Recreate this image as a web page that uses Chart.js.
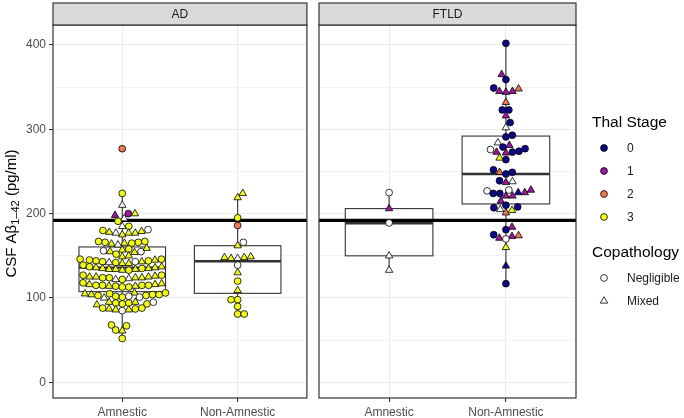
<!DOCTYPE html>
<html>
<head>
<meta charset="utf-8">
<script src="https://cdn.jsdelivr.net/npm/chart.js@4.4.1/dist/chart.umd.min.js"></script>
<style>
  body { margin: 0; background: #fff; font-family: "Liberation Sans", Arial, sans-serif; }
  #wrap { position: relative; width: 684px; height: 418px; overflow: hidden; }
  canvas { position: absolute; top: 0; }
  #cL { left: 0; }
  #cR { left: 312px; }
  .lt { position: absolute; left: 592px; font-size: 15.5px; color: #000; transform: translateY(-50%); white-space: nowrap; }
  .li { position: absolute; left: 597px; height: 14px; transform: translateY(-50%); font-size: 12px; color: #1a1a1a; white-space: nowrap; }
  .li svg { position: absolute; left: 0; top: 0; }
  .li span { position: absolute; left: 30px; top: 0; line-height: 14px; }
</style>
</head>
<body>
<div id="wrap">
  <canvas id="cL" width="312" height="418"></canvas>
  <canvas id="cR" width="372" height="418"></canvas>
  <div id="legend"></div>
</div>
<script>
// facet / group labels
const facets = ['AD', 'FTLD'];
const groups = ['Amnestic', 'Non-Amnestic'];
const yTicks = [0, 50, 100, 150, 200, 250, 300, 350, 400];
const yTitle = ['CSF Aβ', '1–42', ' (pg/ml)'];   // main, subscript, rest
const cutoff = 192;

// thal stage colours (plasma), -1 = not assessed (white)
const stageLabels = ['0', '1', '2', '3'];
const stageColors = ['#0D0887', '#9C179E', '#ED7953', '#F0F921'];
const copathLabels = ['Negligible', 'Mixed'];

// box stats: [lower whisker, q1, median, q3, upper whisker]
const boxAD = [[52, 107.5, 136, 160.5, 224], [81, 105.5, 143.5, 162, 224]];
const boxFTLD = [[133, 150, 188.6, 206, 224.6], [117, 211.5, 247, 292, 402.5]];

// AD / Amnestic
const adAmnVal = [277, 224, 210, 200, 198, 200, 194, 191, 185, 185,
  180, 178, 177, 175, 177, 177, 179, 181,
  167, 166, 165, 164, 163, 166, 165, 167,
  158, 156, 155, 154, 152, 155, 157, 159, 150, 149,
  146, 145, 144, 143, 143, 142, 141, 143, 142, 141, 144, 145, 146,
  136, 134, 135, 133, 136, 134, 135, 137, 135, 133, 134, 137, 139,
  127, 126, 124, 124, 123, 122, 124, 125, 124, 125, 122, 125, 127,
  118, 116, 115, 114, 113, 114, 115, 116, 114, 115, 113, 117, 115,
  106, 104, 102, 104, 103, 101, 105, 102, 100, 103, 101, 105, 104, 106,
  95, 94, 93, 95, 93, 94, 92, 95,
  88, 87, 86, 88, 86, 85, 87,
  68, 67, 62, 61, 52];
const adAmnStage = [2, 3, -1, 1, 1, 3, -1, 3, -1, 3,
  3, 3, 3, 3, -1, 3, 3, -1,
  3, 3, 3, 3, -1, 3, 3, 3,
  3, -1, 3, 3, 3, -1, 3, 3, 3, 3,
  3, 3, 3, -1, 3, 3, 3, 3, -1, 3, 3, 3, 3,
  3, 3, 3, 3, 3, 3, 3, 3, 3, 3, 3, 3, 3,
  3, 3, 3, 3, -1, 3, 3, 3, 3, 3, -1, 3, 3,
  3, 3, 3, 3, 3, 3, 3, 3, 3, 3, 3, 3, 3,
  3, 3, -1, 3, 3, 3, 3, 3, -1, 3, -1, 3, 3, 3,
  3, 3, 3, 3, 3, 3, 3, -1,
  3, 3, 3, 3, 3, -1, 3,
  3, 3, 3, 3, 3];
const adAmnCopath = [0, 0, 1, 0, 1, 1, 1, 0, 1, 0,
  0, 1, 1, 1, 1, 1, 1, 0,
  0, 0, 1, 1, 1, 0, 0, 0,
  0, 0, 1, 1, 0, 0, 1, 1, 1, 1,
  0, 1, 0, 0, 1, 0, 1, 0, 1, 1, 0, 0, 0,
  1, 1, 0, 1, 1, 1, 1, 0, 1, 0, 1, 1, 0,
  0, 1, 0, 1, 1, 0, 0, 1, 1, 1, 1, 1, 0,
  0, 1, 0, 0, 0, 1, 0, 1, 1, 0, 0, 1, 0,
  1, 0, 0, 1, 0, 0, 0, 0, 1, 0, 0, 1, 0, 0,
  1, 0, 0, 1, 0, 0, 1, 0,
  0, 1, 1, 0, 1, 0, 0,
  0, 0, 0, 1, 0];

// AD / Non-Amnestic
const adNonVal = [224, 219, 195, 186, 166, 162, 148, 148, 147, 139, 147, 149, 130, 120, 109, 98, 98, 90, 81, 81];
const adNonStage = [3, 3, 3, 2, -1, 3, 3, 3, -1, -1, 3, 3, 3, 3, 3, 3, 3, 3, 3, 3];
const adNonCopath = [1, 1, 0, 0, 0, 1, 1, 1, 1, 0, 1, 1, 1, 0, 1, 0, 0, 0, 0, 0];

// FTLD / Amnestic
const ftAmnVal = [225, 206, 189, 150, 133];
const ftAmnStage = [-1, 1, -1, -1, -1];
const ftAmnCopath = [0, 1, 0, 1, 1];

// FTLD / Non-Amnestic
const ftNonVal = [402, 365, 359, 349, 345, 344, 345, 348, 332, 323, 323, 316, 308, 302, 293, 291,
  284, 281, 279, 277, 274, 272, 273, 273, 276, 264, 266,
  249, 247, 249, 252, 239, 237, 238,
  228, 227, 225, 224, 221, 221, 224, 225, 228, 215,
  210, 208, 205, 207, 201, 204,
  184, 181, 175, 173, 171, 170, 174, 160, 138, 117];
const ftNonStage = [0, 1, 0, 0, 1, 1, 1, 2, 2, 0, 0, 1, 0, -1, 0, 0,
  -1, 1, 0, 0, 0, 1, 0, 1, -1, 0, 3,
  2, 0, 0, 0, 0, 1, -1,
  -1, -1, 0, 0, 1, 1, 0, 1, 1, 1,
  0, 0, -1, 0, 2, 3,
  1, 0, 0, 1, 1, -1, 2, 3, 0, 0];
const ftNonCopath = [0, 1, 0, 0, 1, 1, 1, 1, 1, 0, 0, 1, 0, 1, 0, 0,
  1, 1, 0, 0, 0, 1, 0, 1, 0, 0, 1,
  1, 0, 0, 0, 0, 1, 1,
  0, 0, 1, 0, 1, 1, 0, 1, 1, 1,
  0, 0, 1, 0, 1, 1,
  1, 0, 0, 1, 1, 0, 1, 1, 1, 0];

const FONT = '"Liberation Sans", Arial, sans-serif';
const DIAM = 6.6;

function fillFor(stage) { return stage < 0 ? '#ffffff' : stageColors[stage]; }

function makeDataset(center, vals, stages, copath) {
  return {
    data: vals.map(v => ({ x: center, y: v })),
    center: center,
    vals: vals,
    pointStyle: copath.map(c => c ? 'triangle' : 'circle'),
    pointRadius: copath.map(c => c ? 4.3 : 3.4),
    pointHoverRadius: copath.map(c => c ? 4.3 : 3.4),
    backgroundColor: stages.map(fillFor),
    borderColor: '#000',
    borderWidth: 0.8
  };
}

// simple beeswarm: lowest values first, each point goes as close to the centre as it can
function swarm(py) {
  const order = py.map((_, i) => i).sort((a, b) => py[b] - py[a]);
  const placed = [];
  const offs = new Array(py.length).fill(0);
  let flip = 1;
  order.forEach(i => {
    const y = py[i];
    const cands = [0];
    placed.forEach(p => {
      const dy = Math.abs(p.y - y);
      if (dy < DIAM) {
        const dx = Math.sqrt(DIAM * DIAM - dy * dy);
        cands.push(p.x + dx, p.x - dx);
      }
    });
    cands.sort((a, b) => (Math.abs(a) - Math.abs(b)) || (flip * (a - b)));
    const x = cands.find(c => placed.every(p => (p.x - c) ** 2 + (p.y - y) ** 2 >= DIAM * DIAM - 0.01));
    flip = -flip;
    placed.push({ x, y });
    offs[i] = x;
  });
  return offs;
}

function layoutSwarm(chart) {
  const xs = chart.scales.x, ys = chart.scales.y;
  const pxPerUnit = xs.getPixelForValue(1) - xs.getPixelForValue(0);
  chart.data.datasets.forEach(ds => {
    const offs = swarm(ds.vals.map(v => ys.getPixelForValue(v)));
    ds.data = ds.vals.map((v, i) => ({ x: ds.center + offs[i] / pxPerUnit, y: v }));
  });
  chart.update('none');
}

// boxes, cutoff line, panel border, strip and y title
const panelDeco = {
  id: 'panelDeco',
  beforeDatasetsDraw(chart, args, opts) {
    const { ctx, chartArea: a, scales: { x, y } } = chart;
    ctx.save();
    ctx.strokeStyle = '#333333';
    opts.boxes.forEach((b, i) => {
      const cx = x.getPixelForValue(i + 1);
      const hw = x.getPixelForValue(i + 1 + 0.375) - cx;
      const [lo, q1, med, q3, hi] = b.map(v => y.getPixelForValue(v));
      ctx.lineWidth = 1.1;
      ctx.beginPath();
      ctx.moveTo(cx, q3); ctx.lineTo(cx, hi);
      ctx.moveTo(cx, q1); ctx.lineTo(cx, lo);
      ctx.stroke();
      ctx.fillStyle = '#ffffff';
      ctx.fillRect(cx - hw, q3, 2 * hw, q1 - q3);
      ctx.strokeRect(cx - hw, q3, 2 * hw, q1 - q3);
      ctx.lineWidth = 2.4;
      ctx.beginPath();
      ctx.moveTo(cx - hw, med); ctx.lineTo(cx + hw, med);
      ctx.stroke();
    });
    const yc = y.getPixelForValue(cutoff);
    ctx.strokeStyle = '#000';
    ctx.lineWidth = 3.4;
    ctx.beginPath();
    ctx.moveTo(a.left, yc); ctx.lineTo(a.right, yc);
    ctx.stroke();
    ctx.restore();
  },
  afterDraw(chart, args, opts) {
    const { ctx, chartArea: a } = chart;
    ctx.save();
    ctx.strokeStyle = '#333333';
    ctx.lineWidth = 1.2;
    ctx.strokeRect(a.left, a.top, a.right - a.left, a.bottom - a.top);
    ctx.fillStyle = '#d9d9d9';
    ctx.fillRect(a.left, 3, a.right - a.left, a.top - 3);
    ctx.strokeRect(a.left, 3, a.right - a.left, a.top - 3);
    ctx.fillStyle = '#1a1a1a';
    ctx.font = '12px ' + FONT;
    ctx.textAlign = 'center';
    ctx.textBaseline = 'middle';
    ctx.fillText(opts.title, (a.left + a.right) / 2, (a.top + 3) / 2 + 1);
    ctx.restore();

    if (opts.yTitle) {
      const big = '15px ' + FONT, small = '11px ' + FONT;
      ctx.save();
      ctx.fillStyle = '#000';
      ctx.textBaseline = 'alphabetic';
      ctx.textAlign = 'left';
      ctx.font = big; const w0 = ctx.measureText(opts.yTitle[0]).width;
      const w2 = ctx.measureText(opts.yTitle[2]).width;
      ctx.font = small; const w1 = ctx.measureText(opts.yTitle[1]).width;
      const total = w0 + w1 + w2;
      ctx.translate(16, (a.top + a.bottom) / 2 + 2);
      ctx.rotate(-Math.PI / 2);
      let tx = -total / 2;
      ctx.font = big; ctx.fillText(opts.yTitle[0], tx, 0); tx += w0;
      ctx.font = small; ctx.fillText(opts.yTitle[1], tx, 3); tx += w1;
      ctx.font = big; ctx.fillText(opts.yTitle[2], tx, 0);
      ctx.restore();
    }
  }
};

function makeChart(id, title, boxes, datasets, showY, padRight) {
  const chart = new Chart(document.getElementById(id), {
    type: 'scatter',
    data: { datasets },
    plugins: [panelDeco],
    options: {
      responsive: false,
      animation: false,
      events: [],
      layout: { padding: { top: 25, right: padRight, bottom: 0, left: 0 } },
      plugins: {
        legend: { display: false },
        tooltip: { enabled: false },
        panelDeco: { title, boxes, yTitle: showY ? yTitle : null }
      },
      scales: {
        x: {
          type: 'linear', min: 0.4, max: 2.6,
          afterBuildTicks: s => { s.ticks = groups.map((g, i) => ({ value: i + 1 })); },
          afterFit: s => { s.height = 20; },
          border: { display: false },
          grid: { color: '#ebebeb', lineWidth: 1.1, tickColor: '#333333', tickLength: 4, tickWidth: 1.1 },
          ticks: { callback: v => groups[v - 1], color: '#4d4d4d', font: { family: FONT, size: 12 }, padding: 3, maxRotation: 0 }
        },
        y: {
          type: 'linear', min: -18.6, max: 423.7,
          afterBuildTicks: s => { s.ticks = yTicks.map(v => ({ value: v })); },
          afterFit: s => { s.width = showY ? 53 : 7; },
          border: { display: false },
          grid: {
            color: '#ebebeb',
            lineWidth: c => (c.tick && c.tick.value % 100) ? 0.6 : 1.1,
            drawTicks: showY,
            tickLength: 4,
            tickWidth: 1.1,
            tickColor: c => (c.tick && c.tick.value % 100) ? 'rgba(0,0,0,0)' : '#333333'
          },
          ticks: {
            display: showY,
            callback: v => (v % 100 ? '' : String(v)),
            color: '#4d4d4d', font: { family: FONT, size: 12 }, padding: 3
          }
        }
      }
    }
  });
  layoutSwarm(chart);
  return chart;
}

makeChart('cL', facets[0], boxAD, [
  makeDataset(1, adAmnVal, adAmnStage, adAmnCopath),
  makeDataset(2, adNonVal, adNonStage, adNonCopath)
], true, 3);

makeChart('cR', facets[1], boxFTLD, [
  makeDataset(1, ftAmnVal, ftAmnStage, ftAmnCopath),
  makeDataset(2, ftNonVal, ftNonStage, ftNonCopath)
], false, 108);

// legend
const leg = document.getElementById('legend');
let html = '<div class="lt" style="top:122px">Thal Stage</div>';
stageLabels.forEach((s, i) => {
  html += `<div class="li" style="top:${148 + i * 23}px"><svg width="14" height="14"><circle cx="7" cy="7" r="3.4" fill="${stageColors[i]}" stroke="#000" stroke-width="0.8"/></svg><span>${s}</span></div>`;
});
html += '<div class="lt" style="top:252px">Copathology</div>';
copathLabels.forEach((c, i) => {
  const sym = i === 0
    ? '<circle cx="7" cy="7" r="3.4" fill="#fff" stroke="#000" stroke-width="0.8"/>'
    : '<polygon points="7,2.7 10.7,9.15 3.3,9.15" fill="#fff" stroke="#000" stroke-width="0.8"/>';
  html += `<div class="li" style="top:${278 + i * 23}px"><svg width="14" height="14">${sym}</svg><span>${c}</span></div>`;
});
leg.innerHTML = html;
</script>
</body>
</html>
